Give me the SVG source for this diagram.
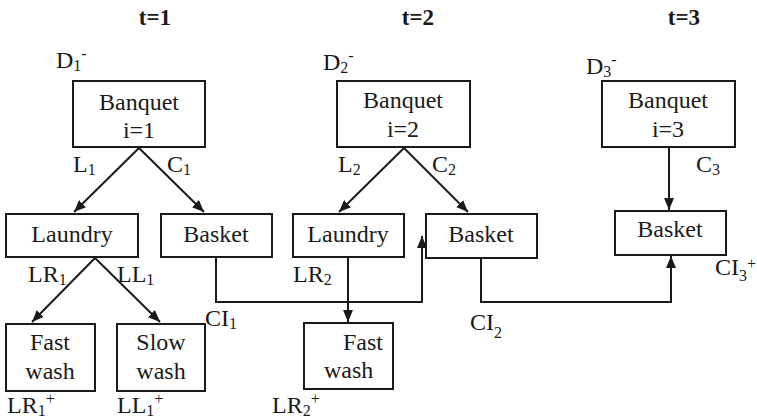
<svg xmlns="http://www.w3.org/2000/svg" width="757" height="419" viewBox="0 0 757 419" font-family="'Liberation Serif', 'DejaVu Serif', serif">
  <style>
    .box { fill: #fff; stroke: #1a1a1a; stroke-width: 2; }
    text { font-family: 'Liberation Serif', 'DejaVu Serif', serif; }
    .lbl { font-size: 24px; fill: #1a1a1a; }
    .mid { text-anchor: middle; }
    .hdr { font-size: 23px; font-weight: bold; fill: #1a1a1a; text-anchor: middle; }
    .sm { font-size: 16px; }
    .edge { fill: none; stroke: #1a1a1a; stroke-width: 2; marker-end: url(#arrow); }
  </style>
  <defs>
    <marker id="arrow" markerUnits="userSpaceOnUse" markerWidth="13" markerHeight="10" refX="12" refY="5" orient="auto">
      <path d="M0,0 L12,5 L0,10 z" fill="#1a1a1a"/>
    </marker>
  </defs>
  <rect width="757" height="419" fill="#fff"/>

  <!-- period headers -->
  <g id="headers">
    <text class="hdr" x="155" y="25">t=1</text>
    <text class="hdr" x="418" y="25">t=2</text>
    <text class="hdr" x="684" y="25">t=3</text>
  </g>

  <!-- connectors -->
  <g id="connectors">
    <line class="edge" x1="139" y1="148" x2="74" y2="212"/>
    <line class="edge" x1="139" y1="148" x2="204" y2="212"/>
    <line class="edge" x1="95" y1="258" x2="32" y2="322"/>
    <line class="edge" x1="95" y1="258" x2="160" y2="322"/>
    <line class="edge" x1="404" y1="148" x2="339" y2="212"/>
    <line class="edge" x1="404" y1="148" x2="468" y2="212"/>
    <line class="edge" x1="348" y1="258" x2="348" y2="322"/>
    <line class="edge" x1="669" y1="148" x2="669" y2="210"/>
    <polyline class="edge" points="216,258 216,302 422,302 422,236"/>
    <polyline class="edge" points="481,259 481,302 671,302 671,256"/>
  </g>

  <!-- t=1 -->
  <g id="banquet1">
    <rect class="box" x="73" y="81" width="132" height="66"/>
    <text class="lbl mid" x="139" y="110">Banquet</text>
    <text class="lbl mid" x="139" y="138">i=1</text>
  </g>
  <g id="laundry1">
    <rect class="box" x="6" y="214" width="132" height="43"/>
    <text class="lbl mid" x="72" y="242">Laundry</text>
  </g>
  <g id="basket1">
    <rect class="box" x="161" y="214" width="111" height="43"/>
    <text class="lbl mid" x="216" y="242">Basket</text>
  </g>
  <g id="fastwash1">
    <rect class="box" x="6" y="324" width="89" height="67"/>
    <text class="lbl mid" x="50" y="350">Fast</text>
    <text class="lbl mid" x="50" y="379">wash</text>
  </g>
  <g id="slowwash1">
    <rect class="box" x="117" y="324" width="88" height="67"/>
    <text class="lbl mid" x="161" y="350">Slow</text>
    <text class="lbl mid" x="161" y="379">wash</text>
  </g>

  <!-- t=2 -->
  <g id="banquet2">
    <rect class="box" x="337" y="81" width="133" height="66"/>
    <text class="lbl mid" x="403" y="108">Banquet</text>
    <text class="lbl mid" x="403" y="137">i=2</text>
  </g>
  <g id="laundry2">
    <rect class="box" x="293" y="214" width="111" height="43"/>
    <text class="lbl mid" x="348" y="242">Laundry</text>
  </g>
  <g id="basket2">
    <rect class="box" x="426" y="214" width="111" height="44"/>
    <text class="lbl mid" x="481" y="242">Basket</text>
  </g>
  <g id="fastwash2">
    <rect class="box" x="304" y="323" width="89" height="66"/>
    <text class="lbl" x="343" y="350">Fast</text>
    <text class="lbl" x="324" y="378">wash</text>
  </g>

  <!-- t=3 -->
  <g id="banquet3">
    <rect class="box" x="602" y="81" width="133" height="66"/>
    <text class="lbl mid" x="668" y="108">Banquet</text>
    <text class="lbl mid" x="668" y="137">i=3</text>
  </g>
  <g id="basket3">
    <rect class="box" x="615" y="211" width="111" height="44"/>
    <text class="lbl mid" x="670" y="237">Basket</text>
  </g>

  <!-- flow labels -->
  <g id="labels">
    <text class="lbl" x="56" y="68">D<tspan class="sm" dy="3">1</tspan><tspan class="sm" dy="-12">-</tspan></text>
    <text class="lbl" x="73" y="172">L<tspan class="sm" dy="3">1</tspan></text>
    <text class="lbl" x="167" y="172">C<tspan class="sm" dy="3">1</tspan></text>
    <text class="lbl" x="28" y="282">LR<tspan class="sm" dy="3">1</tspan></text>
    <text class="lbl" x="117" y="282">LL<tspan class="sm" dy="3">1</tspan></text>
    <text class="lbl" x="205" y="326">CI<tspan class="sm" dy="3">1</tspan></text>
    <text class="lbl" x="7" y="413">LR<tspan class="sm" dy="3">1</tspan><tspan class="sm" dy="-12">+</tspan></text>
    <text class="lbl" x="117" y="413">LL<tspan class="sm" dy="3">1</tspan><tspan class="sm" dy="-12">+</tspan></text>

    <text class="lbl" x="323" y="70">D<tspan class="sm" dy="3">2</tspan><tspan class="sm" dy="-12">-</tspan></text>
    <text class="lbl" x="338" y="172">L<tspan class="sm" dy="3">2</tspan></text>
    <text class="lbl" x="432" y="172">C<tspan class="sm" dy="3">2</tspan></text>
    <text class="lbl" x="293" y="282">LR<tspan class="sm" dy="3">2</tspan></text>
    <text class="lbl" x="470" y="330">CI<tspan class="sm" dy="8">2</tspan></text>
    <text class="lbl" x="272" y="413">LR<tspan class="sm" dy="3">2</tspan><tspan class="sm" dy="-12">+</tspan></text>

    <text class="lbl" x="586" y="74">D<tspan class="sm" dy="3">3</tspan><tspan class="sm" dy="-12">-</tspan></text>
    <text class="lbl" x="696" y="172">C<tspan class="sm" dy="3">3</tspan></text>
    <text class="lbl" x="715" y="275">CI<tspan class="sm" dy="6">3</tspan><tspan class="sm" dy="-12">+</tspan></text>
  </g>
</svg>
